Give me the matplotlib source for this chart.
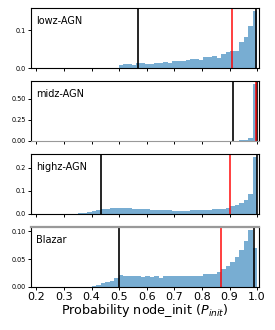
import numpy as np
import matplotlib
matplotlib.use('Agg')
import matplotlib.pyplot as plt
from matplotlib.ticker import FormatStrFormatter

# shared bins
edges = np.linspace(0.19, 1.0, 51)
centers = (edges[:-1] + edges[1:]) / 2

lowz = [0.0]*19 + [0.007, 0.0105, 0.0105, 0.009, 0.012, 0.012, 0.0096, 0.011, 0.014, 0.014,
                   0.016, 0.013, 0.018, 0.019, 0.018, 0.022, 0.024, 0.024, 0.022, 0.029,
                   0.029, 0.032, 0.027, 0.038, 0.043, 0.046, 0.045, 0.068, 0.082, 0.112, 0.151]
midz = [0.0015]*44 + [0.002, 0.003, 0.006, 0.011, 0.03, 0.672]
highz = [0.0, 0.0, 0.0002, 0.0003, 0.0004, 0.0005, 0.0007, 0.0009, 0.0012, 0.0015,
         0.003, 0.004, 0.007, 0.011, 0.016, 0.020, 0.023, 0.025, 0.026, 0.026,
         0.025, 0.024, 0.022, 0.021, 0.020, 0.019, 0.018, 0.017, 0.016, 0.015,
         0.015, 0.014, 0.014, 0.014, 0.014, 0.015, 0.015, 0.016, 0.017, 0.018,
         0.019, 0.020, 0.022, 0.026, 0.033, 0.040, 0.049, 0.062, 0.087, 0.246]
blazar = [0.0]*13 + [0.002, 0.004, 0.007, 0.009, 0.010, 0.015, 0.021, 0.0195, 0.0195, 0.019,
                     0.0195, 0.018, 0.019, 0.018, 0.019, 0.0165, 0.019, 0.020, 0.0195, 0.019,
                     0.0195, 0.019, 0.0195, 0.020, 0.020, 0.0225, 0.0225, 0.0235, 0.027, 0.0325,
                     0.038, 0.0455, 0.054, 0.067, 0.083, 0.1025, 0.070]

names = ['lowz-AGN', 'midz-AGN', 'highz-AGN', 'Blazar']
values = [lowz, midz, highz, blazar]
black_lines = [[0.567, 0.997], [0.912, 0.998], [0.434, 0.999], [0.501, 0.989]]
red_lines = [0.908, 0.995, 0.901, 0.868]
yticks = [[0, 0.1], [0, 0.25, 0.5], [0, 0.1, 0.2], [0, 0.05, 0.1]]
yfmt = ['%.1f', '%.2f', '%.1f', '%.2f']
xticks = [0.2, 0.3, 0.4, 0.5, 0.6, 0.7, 0.8, 0.9, 1.0]

fig, axes = plt.subplots(4, 1, sharex=True, figsize=(2.75, 3.3), dpi=100)
plt.subplots_adjust(left=0.113, right=0.942, bottom=0.131, top=0.975, hspace=0.22)

for i, ax in enumerate(axes):
    ax.hist(centers, bins=edges, weights=values[i], color='C0', alpha=0.6)
    for b in black_lines[i]:
        ax.axvline(b, color='black', lw=1.2)
    ax.axvline(red_lines[i], color='red', lw=1.4, alpha=0.75)
    ax.text(0.02, 0.79, names[i], transform=ax.transAxes, va='center', fontsize=7)
    ax.set_yticks(yticks[i])
    ax.yaxis.set_major_formatter(FormatStrFormatter(yfmt[i]))
    ax.tick_params(axis='y', labelsize=4.7, length=2, width=0.7, pad=1.5)
    ax.tick_params(axis='x', labelsize=8, length=2, width=0.7, pad=1.5)
    for s in ax.spines.values():
        s.set_linewidth(0.8)

axes[1].spines['bottom'].set_color('0.6')
axes[3].spines['top'].set_color('0.6')
axes[3].spines['top'].set_linewidth(1.6)

axes[3].set_xticks(xticks)
axes[3].set_xlim(0.181, 1.007)
axes[3].set_xlabel('Probability node_init ($P_{init}$)', fontsize=9.2, labelpad=0.5)

plt.savefig('out.png', dpi=100)
